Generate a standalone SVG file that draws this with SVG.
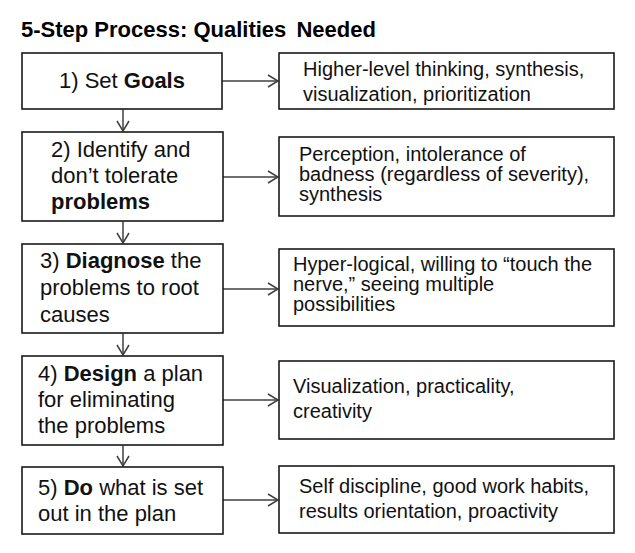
<svg xmlns="http://www.w3.org/2000/svg" width="635" height="553" viewBox="0 0 635 553">
<defs>
<style>
.box{fill:#fff;stroke:#1a1a1a;stroke-width:1.6}
.l{font-family:"Liberation Sans",Arial,sans-serif;font-size:22px;fill:#111}
.r{font-family:"Liberation Sans",Arial,sans-serif;font-size:20px;fill:#111}
.b{font-weight:bold}
.title{font-family:"Liberation Sans",Arial,sans-serif;font-size:22px;font-weight:bold;fill:#000}
.conn{stroke:#404040;stroke-width:1.5;fill:none;marker-end:url(#chev)}
</style>
<marker id="chev" viewBox="0 0 12 14" markerWidth="12" markerHeight="14" refX="11" refY="7" orient="auto" markerUnits="userSpaceOnUse">
<path d="M1,1 L11,7 L1,13" fill="none" stroke="#404040" stroke-width="1.5"/>
</marker>
</defs>
<rect width="635" height="553" fill="#fff"/>
<text class="title" x="21" y="37">5-Step Process: Qualities<tspan dx="4"> Needed</tspan></text>

<g id="connectors">
<line class="conn" x1="123" y1="109" x2="123" y2="131"/>
<line class="conn" x1="123" y1="221" x2="123" y2="243"/>
<line class="conn" x1="123" y1="333" x2="123" y2="355"/>
<line class="conn" x1="123" y1="445" x2="123" y2="466"/>
<line class="conn" x1="222" y1="81" x2="278" y2="81"/>
<line class="conn" x1="223" y1="177" x2="278" y2="177"/>
<line class="conn" x1="223" y1="289" x2="278" y2="289"/>
<line class="conn" x1="223" y1="400" x2="278" y2="400"/>
<line class="conn" x1="223" y1="500" x2="278" y2="500"/>
</g>

<g id="step1">
<rect class="box" x="22" y="53" width="200" height="56"/>
<text class="l" x="122" y="88" text-anchor="middle">1) Set <tspan class="b">Goals</tspan></text>
</g>
<g id="step2">
<rect class="box" x="22" y="132" width="201" height="89"/>
<text class="l" x="51" y="157">2) Identify and</text>
<text class="l" x="51" y="183">don’t tolerate</text>
<text class="l b" x="51" y="209">problems</text>
</g>
<g id="step3">
<rect class="box" x="22" y="244" width="201" height="89"/>
<text class="l" x="40" y="268">3) <tspan class="b">Diagnose</tspan> the</text>
<text class="l" x="40" y="295">problems to root</text>
<text class="l" x="40" y="322">causes</text>
</g>
<g id="step4">
<rect class="box" x="22" y="356" width="201" height="89"/>
<text class="l" x="38" y="381">4) <tspan class="b">Design</tspan> a plan</text>
<text class="l" x="38" y="407">for eliminating</text>
<text class="l" x="38" y="433">the problems</text>
</g>
<g id="step5">
<rect class="box" x="22" y="467" width="201" height="67"/>
<text class="l" x="38" y="495">5) <tspan class="b">Do</tspan> what is set</text>
<text class="l" x="38" y="521">out in the plan</text>
</g>

<g id="quality1">
<rect class="box" x="279" y="53" width="335" height="56"/>
<text class="r" x="303" y="76">Higher-level thinking, synthesis,</text>
<text class="r" x="303" y="101">visualization, prioritization</text>
</g>
<g id="quality2">
<rect class="box" x="279" y="137" width="335" height="79"/>
<text class="r" x="299" y="161">Perception, intolerance of</text>
<text class="r" x="299" y="181">badness (regardless of severity),</text>
<text class="r" x="299" y="201">synthesis</text>
</g>
<g id="quality3">
<rect class="box" x="279" y="249" width="335" height="77"/>
<text class="r" x="293" y="271">Hyper-logical, willing to “touch the</text>
<text class="r" x="293" y="291">nerve,” seeing multiple</text>
<text class="r" x="293" y="311">possibilities</text>
</g>
<g id="quality4">
<rect class="box" x="279" y="361" width="335" height="78"/>
<text class="r" x="293" y="393">Visualization, practicality,</text>
<text class="r" x="293" y="418">creativity</text>
</g>
<g id="quality5">
<rect class="box" x="279" y="466" width="335" height="67"/>
<text class="r" x="299" y="493">Self discipline, good work habits,</text>
<text class="r" x="299" y="518">results orientation, proactivity</text>
</g>
</svg>
